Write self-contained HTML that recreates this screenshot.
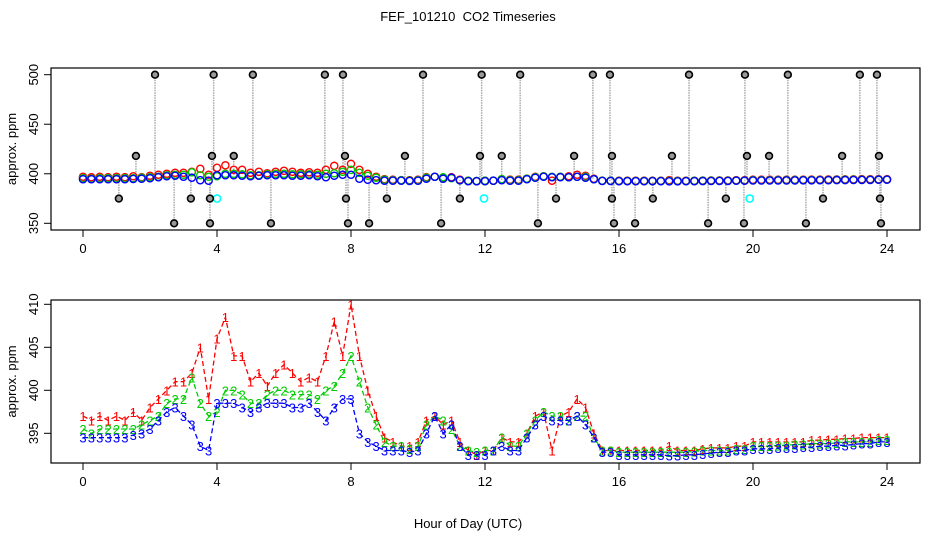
<!DOCTYPE html>
<html><head><meta charset="utf-8">
<style>
body{margin:0;background:#fff;}
svg{display:block;font-family:"Liberation Sans",Arial,sans-serif;}
</style></head>
<body>
<svg id="c" width="936" height="540" viewBox="0 0 936 540">
<text x="468" y="21" text-anchor="middle" font-size="13" xml:space="preserve">FEF_101210  CO2 Timeseries</text>
<text x="468" y="528" text-anchor="middle" font-size="13">Hour of Day (UTC)</text>
<g id="topPanel"></g>
<g id="botPanel"></g>
</svg>
<script>
const hours = [];
for (let i = 0; i <= 96; i++) hours.push(i * 0.25);
const series1 = [397,396.5,397,396.5, 397,396.5,397.5,396.5, 398,399,400,401, 401,402,405,399, 406,408.5,404,404, 401,402,400.5,402, 403,402,401,401.5, 401,404,408,404, 410,404,400,397, 394.5,394,393.5,393.5, 394,396.5,397,396, 396.5,394,393,392.5, 393,393,394.5,394, 394,395,397,397.5, 393,397,397.5,399, 398,395,393,393, 393,393,393,393, 393,393,393.5,393, 393,393,393.2,393.3, 393.3,393.3,393.5,393.5, 394,394,394,394, 394,394,394,394.2, 394.2,394.3,394.3,394.4, 394.4,394.5,394.5,394.5, 394.5];
const series2 = [395.5,395,395.5,395.5, 395.5,395.5,395.5,396, 396.5,397,398.5,399, 399,401.5,398.5,397, 397.5,400,400,399.5, 398.5,398.5,399.5,400, 400,399.5,399.5,399.5, 399,400,400.5,402, 404,401,398,396, 394,393.5,393.5,393.2, 393.5,396,397,396.5, 395.5,393.5,393,392.8, 393,393,394.5,393.5, 393.5,395,396.5,397.5, 397,397,396.5,397, 397,394.5,393,393, 392.8,392.8,392.8,392.8, 392.8,392.8,392.8,392.8, 392.8,392.9,393,393, 393,393,393.2,393.2, 393.5,393.5,393.5,393.6, 393.6,393.7,393.7,393.8, 393.8,393.8,393.9,394, 394,394,394,394.2, 394.2];
const series3 = [394.5,394.5,394.5,394.5, 394.5,394.5,394.8,395, 395.5,396.5,397.5,398, 397,396,393.5,393, 398.5,398.5,398.5,398, 397.5,398,398.5,398.5, 398.5,398,398,398.5, 397.5,396.5,398,399, 399,395,394,393.5, 393,393,393,392.8, 393,395,397,395, 396,393.5,392.5,392.5, 392.5,393,393.5,393, 393,394.5,396,397, 396.5,396.5,396.5,397, 396,394.5,392.8,392.8, 392.5,392.5,392.5,392.5, 392.5,392.5,392.4,392.4, 392.5,392.5,392.6,392.7, 392.8,392.8,393,393, 393.2,393.2,393.2,393.3, 393.3,393.3,393.4,393.4, 393.5,393.5,393.6,393.6, 393.7,393.8,393.8,394, 394];
const outlierHours = [2.15,3.9,5.07,7.22,7.76,10.15,11.9,13.05,15.22,15.73,18.09,19.76,21.04,23.19,23.7, 1.58,3.85,4.5,7.82,9.61,11.85,12.5,14.66,15.79,17.58,19.82,20.48,22.66,23.76, 1.07,3.22,3.79,7.85,9.07,11.25,14.12,15.79,17.01,19.19,22.09,23.79, 2.72,3.79,5.61,7.91,8.54,10.69,13.58,15.85,16.48,18.66,19.73,21.58,23.82];
const outlierValues = [500,500,500,500,500,500,500,500,500,500,500,500,500,500,500, 418,418,418,418,418,418,418,418,418,418,418,418,418,418, 375,375,375,375,375,375,375,375,375,375,375,375, 350,350,350,350,350,350,350,350,350,350,350,350,350];
const cyanHours = [4.0,11.97,19.9];
const cyanValues = [375,375,375];
const xTicks = [0,4,8,12,16,20,24];
const topYTicks = [350,400,450,500];
const botYTicks = [395,400,405,410];

const NS = "http://www.w3.org/2000/svg";
function mk(parent, tag, attrs, txt){
  const e = document.createElementNS(NS, tag);
  for (const k in attrs) e.setAttribute(k, attrs[k]);
  if (txt !== undefined) e.textContent = txt;
  parent.appendChild(e);
  return e;
}
const X = h => 83 + h * 33.5;
const Ytop = v => 223.3 - (v - 350) * (148.6 / 150);
const Ybot = v => 433.3 - (v - 395) * (129 / 15);

function frame(g, y0, y1, yTicks, Y, panel){
  const box = mk(g, 'rect', {x:51, y:y0, width:869, height:y1-y0, fill:'none', stroke:'#000', 'stroke-width':1.2});
  
  
  xTicks.forEach(t => {
    const l = mk(g, 'line', {x1:X(t), x2:X(t), y1:y1, y2:y1+7, stroke:'#000'});
    
    
    const tx = mk(g, 'text', {x:X(t), y:y1+23, 'text-anchor':'middle', 'font-size':13}, String(t));
    
    
  });
  yTicks.forEach(v => {
    const l = mk(g, 'line', {x1:44, x2:51, y1:Y(v), y2:Y(v), stroke:'#000'});
    
    
    const tx = mk(g, 'text', {x:0, y:0, 'text-anchor':'middle', 'font-size':13, transform:`translate(38,${Y(v)}) rotate(-90)`}, String(v));
    
    
  });
  const yt = mk(g, 'text', {x:0, y:0, 'text-anchor':'middle', 'font-size':13, transform:`translate(16,${(y0+y1)/2}) rotate(-90)`}, 'approx. ppm');
  
  
}

const topG = document.getElementById('topPanel');
const botG = document.getElementById('botPanel');
frame(topG, 68, 230, topYTicks, Ytop, 'top');
frame(botG, 300, 463, botYTicks, Ybot, 'bottom');

outlierHours.forEach((h, i) => {
  const idx = Math.round(h / 0.25);
  const l = mk(topG, 'line', {x1:X(h), x2:X(h), y1:Ytop(outlierValues[i]), y2:Ytop(series3[idx]), stroke:'#aaa', 'stroke-width':1.5, 'stroke-dasharray':'1.5 1'});
  
  
});
[[series1,'#f00','red'],[series2,'#0c0','green'],[series3,'#00f','blue']].forEach(([s,col,nm]) => {
  s.forEach((v, i) => {
    const c = mk(topG, 'circle', {cx:X(hours[i]), cy:Ytop(v), r:3.6, fill:'none', stroke:col, 'stroke-width':1.4});
    
    
  });
});
cyanHours.forEach((h, i) => {
  const c = mk(topG, 'circle', {cx:X(h), cy:Ytop(cyanValues[i]), r:3.6, fill:'none', stroke:'#0ff', 'stroke-width':1.6});
  
  
});
outlierHours.forEach((h, i) => {
  const c = mk(topG, 'circle', {cx:X(h), cy:Ytop(outlierValues[i]), r:3.4, fill:'#999', stroke:'#000', 'stroke-width':1.6});
  
  
});

[[series1,'#f00','1'],[series2,'#0c0','2'],[series3,'#00f','3']].forEach(([s,col,ch]) => {
  const pts = s.map((v,i) => `${X(hours[i]).toFixed(1)},${Ybot(v).toFixed(1)}`).join(' ');
  const pl = mk(botG, 'polyline', {points:pts, fill:'none', stroke:col, 'stroke-width':1.3, 'stroke-dasharray':'5 3'});
  
  
  s.forEach((v, i) => {
    const t = mk(botG, 'text', {x:X(hours[i]), y:Ybot(v)+5, 'text-anchor':'middle', 'font-size':13, fill:col}, ch);
    
    
  });
});
</script>
</body></html>
